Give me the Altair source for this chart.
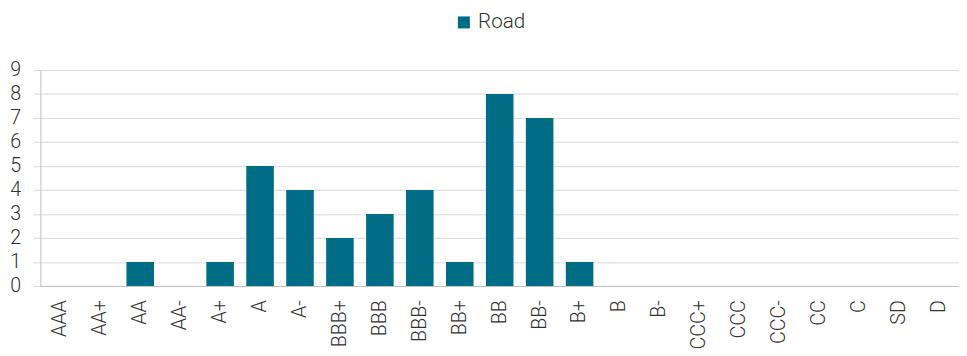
import altair as alt
import pandas as pd

ratings = ["AAA", "AA+", "AA", "AA-", "A+", "A", "A-", "BBB+", "BBB", "BBB-",
           "BB+", "BB", "BB-", "B+", "B", "B-", "CCC+", "CCC", "CCC-", "CC",
           "C", "SD", "D"]
road = [0, 0, 1, 0, 1, 5, 4, 2, 3, 4, 1, 8, 7, 1, 0, 0, 0, 0, 0, 0, 0, 0, 0]
series_name = "Road"

df = pd.DataFrame({"rating": ratings, "value": road, "series": series_name})

FONT = "Roboto"

chart = alt.Chart(df).mark_bar().encode(
    x=alt.X("rating:N", sort=ratings, title=None,
            scale=alt.Scale(paddingInner=0.31, paddingOuter=0.155),
            axis=alt.Axis(labelAngle=-90, labelFontSize=20, labelColor="#333333",
                          labelFont=FONT, labelFontWeight=300, ticks=False,
                          domainColor="#bfbfbf",
                          labelPadding=14, labelAlign="right", labelBaseline="middle")),
    y=alt.Y("value:Q", title=None,
            scale=alt.Scale(domain=[0, 9], nice=False),
            axis=alt.Axis(values=list(range(10)), labelFontSize=20, labelColor="#333333",
                          labelFont=FONT, labelFontWeight=300, ticks=True, tickSize=7,
                          tickColor="#d9d9d9", domain=True,
                          domainColor="#bfbfbf",
                          gridColor="#d9d9d9", labelPadding=13)),
    color=alt.Color("series:N", title=None,
                    scale=alt.Scale(range=["#006d87"]),
                    legend=alt.Legend(orient="none", legendX=421, legendY=-59,
                                      symbolType="square", symbolSize=150,
                                      symbolStrokeWidth=0,
                                      labelFontSize=21, labelFont=FONT,
                                      labelFontWeight=300,
                                      labelColor="#333333"))
).properties(
    width=936, height=220,
    autosize=alt.AutoSizeParams(type="none"),
    padding={"left": 33, "top": 60, "right": 0, "bottom": 60}
).configure_view(stroke=None)

chart.save("out.html", embed_options={"renderer": "svg", "actions": False})
